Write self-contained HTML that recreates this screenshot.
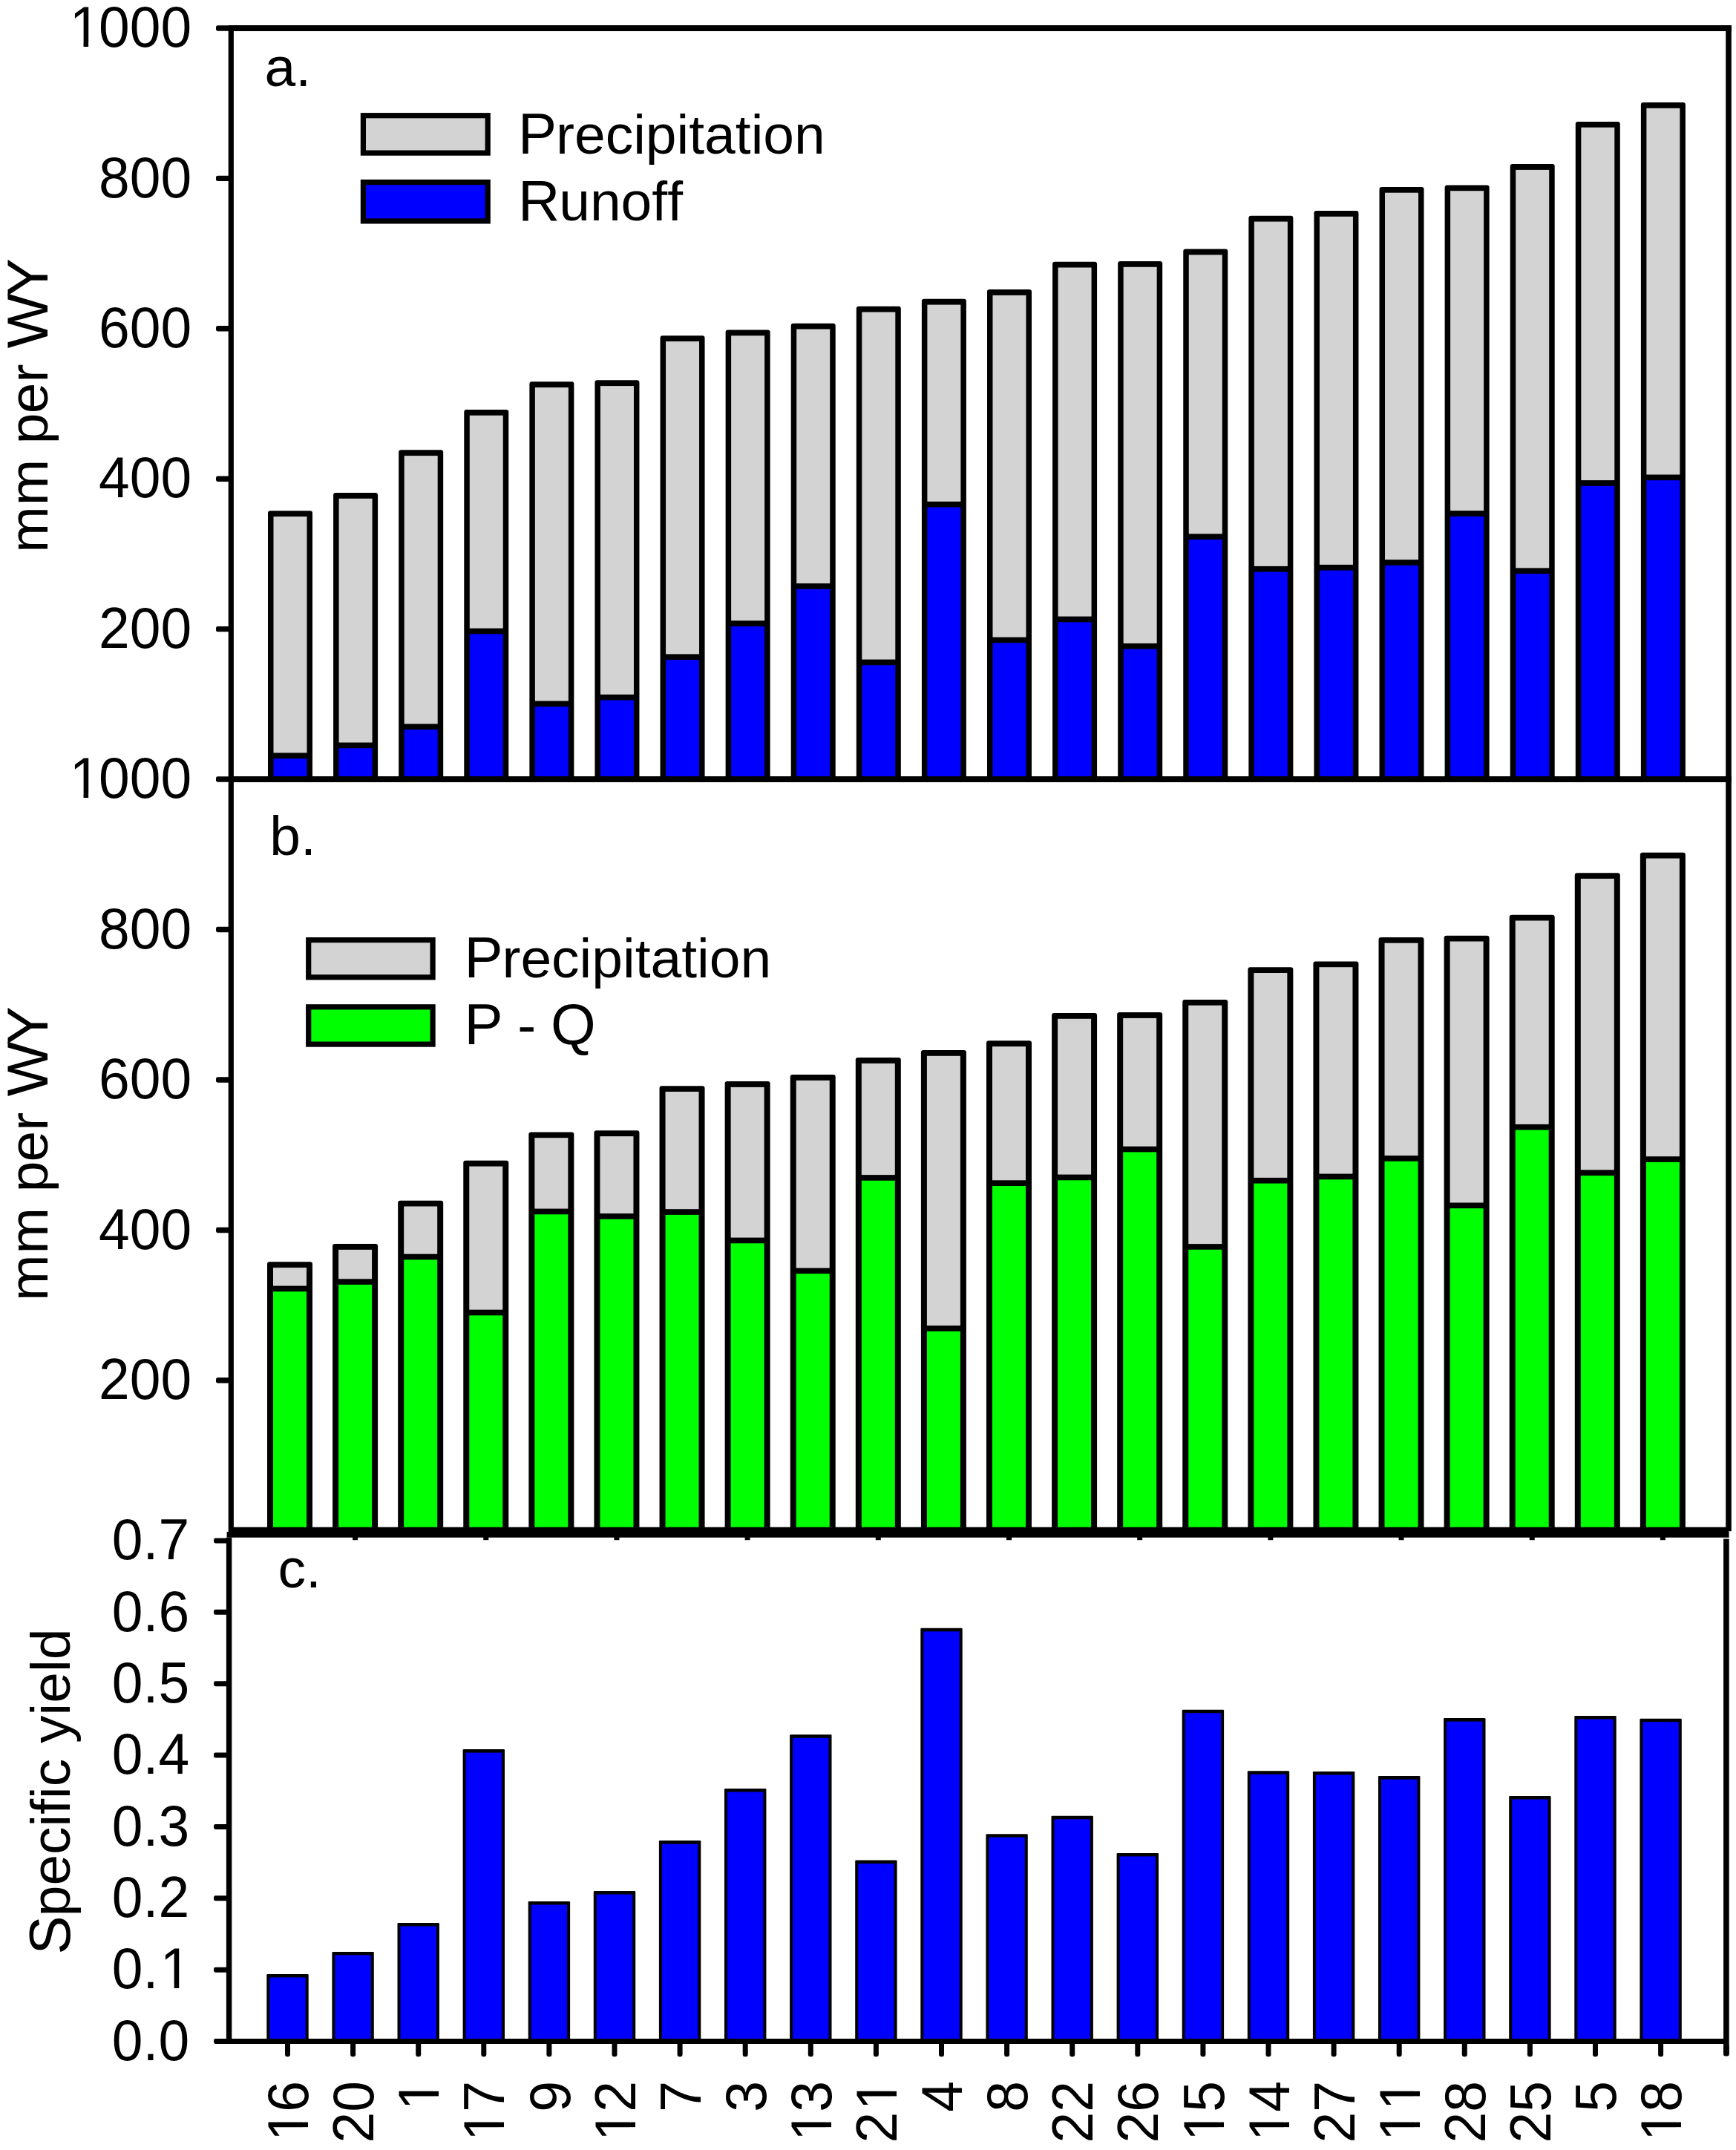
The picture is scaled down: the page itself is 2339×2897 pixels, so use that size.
<!DOCTYPE html>
<html lang="en">
<head>
<meta charset="utf-8">
<title>Precipitation, runoff and specific yield by catchment</title>
<style>
html,body{margin:0;padding:0;background:#fff;}
body{width:2339px;height:2897px;overflow:hidden;}
svg{display:block;}
text{font-family:"Liberation Sans",sans-serif;font-size:75px;fill:#000;font-variant-ligatures:none;font-feature-settings:"liga" 0,"clig" 0,"kern" 0;font-kerning:none;}
</style>
</head>
<body>
<svg width="2339" height="2897" viewBox="0 0 2339 2897" shape-rendering="geometricPrecision">
<rect x="0" y="0" width="2339" height="2897" fill="#ffffff"/>
<rect x="361.00" y="688.20" width="60.00" height="364.30" fill="#000" rx="3.2"/>
<rect x="368.50" y="696.00" width="45.00" height="318.40" fill="#d3d3d3"/>
<rect x="368.50" y="1022.10" width="45.00" height="27.90" fill="#0000ff"/>
<rect x="449.09" y="664.00" width="60.00" height="388.50" fill="#000" rx="3.2"/>
<rect x="456.59" y="671.80" width="45.00" height="328.70" fill="#d3d3d3"/>
<rect x="456.59" y="1008.20" width="45.00" height="41.80" fill="#0000ff"/>
<rect x="537.18" y="606.30" width="60.00" height="446.20" fill="#000" rx="3.2"/>
<rect x="544.68" y="614.10" width="45.00" height="361.30" fill="#d3d3d3"/>
<rect x="544.68" y="983.10" width="45.00" height="66.90" fill="#0000ff"/>
<rect x="625.27" y="552.00" width="60.00" height="500.50" fill="#000" rx="3.2"/>
<rect x="632.77" y="559.80" width="45.00" height="286.80" fill="#d3d3d3"/>
<rect x="632.77" y="854.30" width="45.00" height="195.70" fill="#0000ff"/>
<rect x="713.36" y="514.30" width="60.00" height="538.20" fill="#000" rx="3.2"/>
<rect x="720.86" y="522.10" width="45.00" height="422.40" fill="#d3d3d3"/>
<rect x="720.86" y="952.20" width="45.00" height="97.80" fill="#0000ff"/>
<rect x="801.45" y="512.30" width="60.00" height="540.20" fill="#000" rx="3.2"/>
<rect x="808.95" y="520.10" width="45.00" height="415.70" fill="#d3d3d3"/>
<rect x="808.95" y="943.50" width="45.00" height="106.50" fill="#0000ff"/>
<rect x="889.54" y="452.20" width="60.00" height="600.30" fill="#000" rx="3.2"/>
<rect x="897.04" y="460.00" width="45.00" height="421.40" fill="#d3d3d3"/>
<rect x="897.04" y="889.10" width="45.00" height="160.90" fill="#0000ff"/>
<rect x="977.63" y="444.50" width="60.00" height="608.00" fill="#000" rx="3.2"/>
<rect x="985.13" y="452.30" width="45.00" height="384.00" fill="#d3d3d3"/>
<rect x="985.13" y="844.00" width="45.00" height="206.00" fill="#0000ff"/>
<rect x="1065.72" y="435.70" width="60.00" height="616.80" fill="#000" rx="3.2"/>
<rect x="1073.22" y="443.50" width="45.00" height="342.60" fill="#d3d3d3"/>
<rect x="1073.22" y="793.80" width="45.00" height="256.20" fill="#0000ff"/>
<rect x="1153.81" y="412.70" width="60.00" height="639.80" fill="#000" rx="3.2"/>
<rect x="1161.31" y="420.50" width="45.00" height="468.10" fill="#d3d3d3"/>
<rect x="1161.31" y="896.30" width="45.00" height="153.70" fill="#0000ff"/>
<rect x="1241.90" y="402.80" width="60.00" height="649.70" fill="#000" rx="3.2"/>
<rect x="1249.40" y="410.60" width="45.00" height="265.20" fill="#d3d3d3"/>
<rect x="1249.40" y="683.50" width="45.00" height="366.50" fill="#0000ff"/>
<rect x="1329.99" y="390.10" width="60.00" height="662.40" fill="#000" rx="3.2"/>
<rect x="1337.49" y="397.90" width="45.00" height="460.70" fill="#d3d3d3"/>
<rect x="1337.49" y="866.30" width="45.00" height="183.70" fill="#0000ff"/>
<rect x="1418.08" y="352.70" width="60.00" height="699.80" fill="#000" rx="3.2"/>
<rect x="1425.58" y="360.50" width="45.00" height="470.10" fill="#d3d3d3"/>
<rect x="1425.58" y="838.30" width="45.00" height="211.70" fill="#0000ff"/>
<rect x="1506.17" y="352.00" width="60.00" height="700.50" fill="#000" rx="3.2"/>
<rect x="1513.67" y="359.80" width="45.00" height="507.10" fill="#d3d3d3"/>
<rect x="1513.67" y="874.60" width="45.00" height="175.40" fill="#0000ff"/>
<rect x="1594.26" y="335.60" width="60.00" height="716.90" fill="#000" rx="3.2"/>
<rect x="1601.76" y="343.40" width="45.00" height="375.90" fill="#d3d3d3"/>
<rect x="1601.76" y="727.00" width="45.00" height="323.00" fill="#0000ff"/>
<rect x="1682.35" y="290.80" width="60.00" height="761.70" fill="#000" rx="3.2"/>
<rect x="1689.85" y="298.60" width="45.00" height="464.30" fill="#d3d3d3"/>
<rect x="1689.85" y="770.60" width="45.00" height="279.40" fill="#0000ff"/>
<rect x="1770.44" y="284.00" width="60.00" height="768.50" fill="#000" rx="3.2"/>
<rect x="1777.94" y="291.80" width="45.00" height="469.10" fill="#d3d3d3"/>
<rect x="1777.94" y="768.60" width="45.00" height="281.40" fill="#0000ff"/>
<rect x="1858.53" y="251.90" width="60.00" height="800.60" fill="#000" rx="3.2"/>
<rect x="1866.03" y="259.70" width="45.00" height="494.40" fill="#d3d3d3"/>
<rect x="1866.03" y="761.80" width="45.00" height="288.20" fill="#0000ff"/>
<rect x="1946.62" y="249.40" width="60.00" height="803.10" fill="#000" rx="3.2"/>
<rect x="1954.12" y="257.20" width="45.00" height="430.90" fill="#d3d3d3"/>
<rect x="1954.12" y="695.80" width="45.00" height="354.20" fill="#0000ff"/>
<rect x="2034.71" y="221.10" width="60.00" height="831.40" fill="#000" rx="3.2"/>
<rect x="2042.21" y="228.90" width="45.00" height="536.50" fill="#d3d3d3"/>
<rect x="2042.21" y="773.10" width="45.00" height="276.90" fill="#0000ff"/>
<rect x="2122.80" y="163.90" width="60.00" height="888.60" fill="#000" rx="3.2"/>
<rect x="2130.30" y="171.70" width="45.00" height="475.40" fill="#d3d3d3"/>
<rect x="2130.30" y="654.80" width="45.00" height="395.20" fill="#0000ff"/>
<rect x="2210.89" y="138.00" width="60.00" height="914.50" fill="#000" rx="3.2"/>
<rect x="2218.39" y="145.80" width="45.00" height="493.70" fill="#d3d3d3"/>
<rect x="2218.39" y="647.20" width="45.00" height="402.80" fill="#0000ff"/>
<rect x="360.00" y="1700.30" width="61.00" height="364.40" fill="#000" rx="3.2"/>
<rect x="368.00" y="1708.10" width="45.00" height="24.50" fill="#d3d3d3"/>
<rect x="368.00" y="1740.30" width="45.00" height="321.40" fill="#00ff00"/>
<rect x="448.09" y="1676.10" width="61.00" height="388.60" fill="#000" rx="3.2"/>
<rect x="456.09" y="1683.90" width="45.00" height="39.40" fill="#d3d3d3"/>
<rect x="456.09" y="1731.00" width="45.00" height="330.70" fill="#00ff00"/>
<rect x="536.18" y="1617.70" width="61.00" height="447.00" fill="#000" rx="3.2"/>
<rect x="544.18" y="1625.50" width="45.00" height="64.20" fill="#d3d3d3"/>
<rect x="544.18" y="1697.40" width="45.00" height="364.30" fill="#00ff00"/>
<rect x="624.27" y="1563.80" width="61.00" height="500.90" fill="#000" rx="3.2"/>
<rect x="632.27" y="1571.60" width="45.00" height="193.10" fill="#d3d3d3"/>
<rect x="632.27" y="1772.40" width="45.00" height="289.30" fill="#00ff00"/>
<rect x="712.36" y="1525.40" width="61.00" height="539.30" fill="#000" rx="3.2"/>
<rect x="720.36" y="1533.20" width="45.00" height="95.40" fill="#d3d3d3"/>
<rect x="720.36" y="1636.30" width="45.00" height="425.40" fill="#00ff00"/>
<rect x="800.45" y="1523.30" width="61.00" height="541.40" fill="#000" rx="3.2"/>
<rect x="808.45" y="1531.10" width="45.00" height="104.00" fill="#d3d3d3"/>
<rect x="808.45" y="1642.80" width="45.00" height="418.90" fill="#00ff00"/>
<rect x="888.54" y="1463.20" width="61.00" height="601.50" fill="#000" rx="3.2"/>
<rect x="896.54" y="1471.00" width="45.00" height="158.20" fill="#d3d3d3"/>
<rect x="896.54" y="1636.90" width="45.00" height="424.80" fill="#00ff00"/>
<rect x="976.63" y="1457.10" width="61.00" height="607.60" fill="#000" rx="3.2"/>
<rect x="984.63" y="1464.90" width="45.00" height="202.70" fill="#d3d3d3"/>
<rect x="984.63" y="1675.30" width="45.00" height="386.40" fill="#00ff00"/>
<rect x="1064.72" y="1448.00" width="61.00" height="616.70" fill="#000" rx="3.2"/>
<rect x="1072.72" y="1455.80" width="45.00" height="252.80" fill="#d3d3d3"/>
<rect x="1072.72" y="1716.30" width="45.00" height="345.40" fill="#00ff00"/>
<rect x="1152.81" y="1425.10" width="61.00" height="639.60" fill="#000" rx="3.2"/>
<rect x="1160.81" y="1432.90" width="45.00" height="150.20" fill="#d3d3d3"/>
<rect x="1160.81" y="1590.80" width="45.00" height="470.90" fill="#00ff00"/>
<rect x="1240.90" y="1415.00" width="61.00" height="649.70" fill="#000" rx="3.2"/>
<rect x="1248.90" y="1422.80" width="45.00" height="363.40" fill="#d3d3d3"/>
<rect x="1248.90" y="1793.90" width="45.00" height="267.80" fill="#00ff00"/>
<rect x="1328.99" y="1402.30" width="61.00" height="662.40" fill="#000" rx="3.2"/>
<rect x="1336.99" y="1410.10" width="45.00" height="180.20" fill="#d3d3d3"/>
<rect x="1336.99" y="1598.00" width="45.00" height="463.70" fill="#00ff00"/>
<rect x="1417.08" y="1365.00" width="61.00" height="699.70" fill="#000" rx="3.2"/>
<rect x="1425.08" y="1372.80" width="45.00" height="209.80" fill="#d3d3d3"/>
<rect x="1425.08" y="1590.30" width="45.00" height="471.40" fill="#00ff00"/>
<rect x="1505.17" y="1364.10" width="61.00" height="700.60" fill="#000" rx="3.2"/>
<rect x="1513.17" y="1371.90" width="45.00" height="172.80" fill="#d3d3d3"/>
<rect x="1513.17" y="1552.40" width="45.00" height="509.30" fill="#00ff00"/>
<rect x="1593.26" y="1346.90" width="61.00" height="717.80" fill="#000" rx="3.2"/>
<rect x="1601.26" y="1354.70" width="45.00" height="321.40" fill="#d3d3d3"/>
<rect x="1601.26" y="1683.80" width="45.00" height="377.90" fill="#00ff00"/>
<rect x="1681.35" y="1303.20" width="61.00" height="761.50" fill="#000" rx="3.2"/>
<rect x="1689.35" y="1311.00" width="45.00" height="275.90" fill="#d3d3d3"/>
<rect x="1689.35" y="1594.60" width="45.00" height="467.10" fill="#00ff00"/>
<rect x="1769.44" y="1295.40" width="61.00" height="769.30" fill="#000" rx="3.2"/>
<rect x="1777.44" y="1303.20" width="45.00" height="278.40" fill="#d3d3d3"/>
<rect x="1777.44" y="1589.30" width="45.00" height="472.40" fill="#00ff00"/>
<rect x="1857.53" y="1262.90" width="61.00" height="801.80" fill="#000" rx="3.2"/>
<rect x="1865.53" y="1270.70" width="45.00" height="286.40" fill="#d3d3d3"/>
<rect x="1865.53" y="1564.80" width="45.00" height="496.90" fill="#00ff00"/>
<rect x="1945.62" y="1260.70" width="61.00" height="804.00" fill="#000" rx="3.2"/>
<rect x="1953.62" y="1268.50" width="45.00" height="352.00" fill="#d3d3d3"/>
<rect x="1953.62" y="1628.20" width="45.00" height="433.50" fill="#00ff00"/>
<rect x="2033.71" y="1232.70" width="61.00" height="832.00" fill="#000" rx="3.2"/>
<rect x="2041.71" y="1240.50" width="45.00" height="274.40" fill="#d3d3d3"/>
<rect x="2041.71" y="1522.60" width="45.00" height="539.10" fill="#00ff00"/>
<rect x="2121.80" y="1176.20" width="61.00" height="888.50" fill="#000" rx="3.2"/>
<rect x="2129.80" y="1184.00" width="45.00" height="392.40" fill="#d3d3d3"/>
<rect x="2129.80" y="1584.10" width="45.00" height="477.60" fill="#00ff00"/>
<rect x="2209.89" y="1148.80" width="61.00" height="915.90" fill="#000" rx="3.2"/>
<rect x="2217.89" y="1156.60" width="45.00" height="401.60" fill="#d3d3d3"/>
<rect x="2217.89" y="1565.90" width="45.00" height="495.80" fill="#00ff00"/>
<line x1="478.59" y1="2061.70" x2="478.59" y2="2075.20" stroke="#000" stroke-width="7.0" stroke-linecap="butt"/>
<line x1="654.77" y1="2061.70" x2="654.77" y2="2075.20" stroke="#000" stroke-width="7.0" stroke-linecap="butt"/>
<line x1="830.95" y1="2061.70" x2="830.95" y2="2075.20" stroke="#000" stroke-width="7.0" stroke-linecap="butt"/>
<line x1="1007.13" y1="2061.70" x2="1007.13" y2="2075.20" stroke="#000" stroke-width="7.0" stroke-linecap="butt"/>
<line x1="1183.31" y1="2061.70" x2="1183.31" y2="2075.20" stroke="#000" stroke-width="7.0" stroke-linecap="butt"/>
<line x1="1359.49" y1="2061.70" x2="1359.49" y2="2075.20" stroke="#000" stroke-width="7.0" stroke-linecap="butt"/>
<line x1="1535.67" y1="2061.70" x2="1535.67" y2="2075.20" stroke="#000" stroke-width="7.0" stroke-linecap="butt"/>
<line x1="1711.85" y1="2061.70" x2="1711.85" y2="2075.20" stroke="#000" stroke-width="7.0" stroke-linecap="butt"/>
<line x1="1888.03" y1="2061.70" x2="1888.03" y2="2075.20" stroke="#000" stroke-width="7.0" stroke-linecap="butt"/>
<line x1="2064.21" y1="2061.70" x2="2064.21" y2="2075.20" stroke="#000" stroke-width="7.0" stroke-linecap="butt"/>
<line x1="2240.39" y1="2061.70" x2="2240.39" y2="2075.20" stroke="#000" stroke-width="7.0" stroke-linecap="butt"/>
<rect x="359.30" y="2660.00" width="56.40" height="90.50" fill="#000" rx="1.2"/>
<rect x="363.30" y="2664.50" width="48.40" height="86.00" fill="#0000ff"/>
<rect x="447.40" y="2629.90" width="56.40" height="120.60" fill="#000" rx="1.2"/>
<rect x="451.40" y="2634.40" width="48.40" height="116.10" fill="#0000ff"/>
<rect x="535.50" y="2591.00" width="56.40" height="159.50" fill="#000" rx="1.2"/>
<rect x="539.50" y="2595.50" width="48.40" height="155.00" fill="#0000ff"/>
<rect x="623.60" y="2357.10" width="56.40" height="393.40" fill="#000" rx="1.2"/>
<rect x="627.60" y="2361.60" width="48.40" height="388.90" fill="#0000ff"/>
<rect x="711.70" y="2562.00" width="56.40" height="188.50" fill="#000" rx="1.2"/>
<rect x="715.70" y="2566.50" width="48.40" height="184.00" fill="#0000ff"/>
<rect x="799.80" y="2548.10" width="56.40" height="202.40" fill="#000" rx="1.2"/>
<rect x="803.80" y="2552.60" width="48.40" height="197.90" fill="#0000ff"/>
<rect x="887.90" y="2480.10" width="56.40" height="270.40" fill="#000" rx="1.2"/>
<rect x="891.90" y="2484.60" width="48.40" height="265.90" fill="#0000ff"/>
<rect x="976.00" y="2410.00" width="56.40" height="340.50" fill="#000" rx="1.2"/>
<rect x="980.00" y="2414.50" width="48.40" height="336.00" fill="#0000ff"/>
<rect x="1064.10" y="2337.30" width="56.40" height="413.20" fill="#000" rx="1.2"/>
<rect x="1068.10" y="2341.80" width="48.40" height="408.70" fill="#0000ff"/>
<rect x="1152.20" y="2506.60" width="56.40" height="243.90" fill="#000" rx="1.2"/>
<rect x="1156.20" y="2511.10" width="48.40" height="239.40" fill="#0000ff"/>
<rect x="1240.30" y="2193.80" width="56.40" height="556.70" fill="#000" rx="1.2"/>
<rect x="1244.30" y="2198.30" width="48.40" height="552.20" fill="#0000ff"/>
<rect x="1328.40" y="2471.20" width="56.40" height="279.30" fill="#000" rx="1.2"/>
<rect x="1332.40" y="2475.70" width="48.40" height="274.80" fill="#0000ff"/>
<rect x="1416.50" y="2446.80" width="56.40" height="303.70" fill="#000" rx="1.2"/>
<rect x="1420.50" y="2451.30" width="48.40" height="299.20" fill="#0000ff"/>
<rect x="1504.60" y="2496.90" width="56.40" height="253.60" fill="#000" rx="1.2"/>
<rect x="1508.60" y="2501.40" width="48.40" height="249.10" fill="#0000ff"/>
<rect x="1592.70" y="2303.70" width="56.40" height="446.80" fill="#000" rx="1.2"/>
<rect x="1596.70" y="2308.20" width="48.40" height="442.30" fill="#0000ff"/>
<rect x="1680.80" y="2386.30" width="56.40" height="364.20" fill="#000" rx="1.2"/>
<rect x="1684.80" y="2390.80" width="48.40" height="359.70" fill="#0000ff"/>
<rect x="1768.90" y="2387.00" width="56.40" height="363.50" fill="#000" rx="1.2"/>
<rect x="1772.90" y="2391.50" width="48.40" height="359.00" fill="#0000ff"/>
<rect x="1857.00" y="2393.10" width="56.40" height="357.40" fill="#000" rx="1.2"/>
<rect x="1861.00" y="2397.60" width="48.40" height="352.90" fill="#0000ff"/>
<rect x="1945.10" y="2315.10" width="56.40" height="435.40" fill="#000" rx="1.2"/>
<rect x="1949.10" y="2319.60" width="48.40" height="430.90" fill="#0000ff"/>
<rect x="2033.20" y="2420.00" width="56.40" height="330.50" fill="#000" rx="1.2"/>
<rect x="2037.20" y="2424.50" width="48.40" height="326.00" fill="#0000ff"/>
<rect x="2121.30" y="2312.00" width="56.40" height="438.50" fill="#000" rx="1.2"/>
<rect x="2125.30" y="2316.50" width="48.40" height="434.00" fill="#0000ff"/>
<rect x="2209.40" y="2315.70" width="56.40" height="434.80" fill="#000" rx="1.2"/>
<rect x="2213.40" y="2320.20" width="48.40" height="430.30" fill="#0000ff"/>
<line x1="311.30" y1="34.20" x2="311.30" y2="2065.50" stroke="#000" stroke-width="7.2" stroke-linecap="butt"/>
<line x1="2329.00" y1="34.20" x2="2329.00" y2="2063.20" stroke="#000" stroke-width="7.6" stroke-linecap="butt"/>
<line x1="308.00" y1="38.00" x2="2332.80" y2="38.00" stroke="#000" stroke-width="8.0" stroke-linecap="butt"/>
<line x1="308.00" y1="1050.00" x2="2332.80" y2="1050.00" stroke="#000" stroke-width="8.0" stroke-linecap="butt"/>
<line x1="308.00" y1="2061.70" x2="2329.00" y2="2061.70" stroke="#000" stroke-width="8.0" stroke-linecap="butt"/>
<line x1="305.60" y1="2067.80" x2="2329.60" y2="2067.80" stroke="#000" stroke-width="7.8" stroke-linecap="butt"/>
<line x1="308.60" y1="2071.70" x2="308.60" y2="2753.90" stroke="#000" stroke-width="7.4" stroke-linecap="butt"/>
<line x1="2325.90" y1="2073.60" x2="2325.90" y2="2767.00" stroke="#000" stroke-width="7.6" stroke-linecap="butt"/>
<rect x="2322.10" y="2755.00" width="7.60" height="15.60" fill="#000" rx="2.4"/>
<line x1="305.60" y1="2750.50" x2="2325.90" y2="2750.50" stroke="#000" stroke-width="7.0" stroke-linecap="butt"/>
<rect x="291.00" y="34.30" width="20.30" height="7.40" fill="#000" rx="2.4"/>
<rect x="291.00" y="236.70" width="20.30" height="7.40" fill="#000" rx="2.4"/>
<rect x="291.00" y="439.10" width="20.30" height="7.40" fill="#000" rx="2.4"/>
<rect x="291.00" y="641.50" width="20.30" height="7.40" fill="#000" rx="2.4"/>
<rect x="291.00" y="843.90" width="20.30" height="7.40" fill="#000" rx="2.4"/>
<rect x="291.00" y="1046.30" width="20.30" height="7.40" fill="#000" rx="2.4"/>
<rect x="291.00" y="1248.80" width="20.30" height="7.40" fill="#000" rx="2.4"/>
<rect x="291.00" y="1451.30" width="20.30" height="7.40" fill="#000" rx="2.4"/>
<rect x="291.00" y="1653.80" width="20.30" height="7.40" fill="#000" rx="2.4"/>
<rect x="291.00" y="1856.30" width="20.30" height="7.40" fill="#000" rx="2.4"/>
<rect x="288.00" y="2747.00" width="20.60" height="7.00" fill="#000" rx="2.4"/>
<rect x="288.00" y="2650.64" width="20.60" height="7.00" fill="#000" rx="2.4"/>
<rect x="288.00" y="2554.29" width="20.60" height="7.00" fill="#000" rx="2.4"/>
<rect x="288.00" y="2457.93" width="20.60" height="7.00" fill="#000" rx="2.4"/>
<rect x="288.00" y="2361.57" width="20.60" height="7.00" fill="#000" rx="2.4"/>
<rect x="288.00" y="2265.21" width="20.60" height="7.00" fill="#000" rx="2.4"/>
<rect x="288.00" y="2168.86" width="20.60" height="7.00" fill="#000" rx="2.4"/>
<rect x="288.00" y="2072.50" width="20.60" height="7.00" fill="#000" rx="2.4"/>
<rect x="384.00" y="2750.50" width="7.00" height="20.70" fill="#000" rx="2.4"/>
<rect x="472.10" y="2750.50" width="7.00" height="20.70" fill="#000" rx="2.4"/>
<rect x="560.20" y="2750.50" width="7.00" height="20.70" fill="#000" rx="2.4"/>
<rect x="648.30" y="2750.50" width="7.00" height="20.70" fill="#000" rx="2.4"/>
<rect x="736.40" y="2750.50" width="7.00" height="20.70" fill="#000" rx="2.4"/>
<rect x="824.50" y="2750.50" width="7.00" height="20.70" fill="#000" rx="2.4"/>
<rect x="912.60" y="2750.50" width="7.00" height="20.70" fill="#000" rx="2.4"/>
<rect x="1000.70" y="2750.50" width="7.00" height="20.70" fill="#000" rx="2.4"/>
<rect x="1088.80" y="2750.50" width="7.00" height="20.70" fill="#000" rx="2.4"/>
<rect x="1176.90" y="2750.50" width="7.00" height="20.70" fill="#000" rx="2.4"/>
<rect x="1265.00" y="2750.50" width="7.00" height="20.70" fill="#000" rx="2.4"/>
<rect x="1353.10" y="2750.50" width="7.00" height="20.70" fill="#000" rx="2.4"/>
<rect x="1441.20" y="2750.50" width="7.00" height="20.70" fill="#000" rx="2.4"/>
<rect x="1529.30" y="2750.50" width="7.00" height="20.70" fill="#000" rx="2.4"/>
<rect x="1617.40" y="2750.50" width="7.00" height="20.70" fill="#000" rx="2.4"/>
<rect x="1705.50" y="2750.50" width="7.00" height="20.70" fill="#000" rx="2.4"/>
<rect x="1793.60" y="2750.50" width="7.00" height="20.70" fill="#000" rx="2.4"/>
<rect x="1881.70" y="2750.50" width="7.00" height="20.70" fill="#000" rx="2.4"/>
<rect x="1969.80" y="2750.50" width="7.00" height="20.70" fill="#000" rx="2.4"/>
<rect x="2057.90" y="2750.50" width="7.00" height="20.70" fill="#000" rx="2.4"/>
<rect x="2146.00" y="2750.50" width="7.00" height="20.70" fill="#000" rx="2.4"/>
<rect x="2234.10" y="2750.50" width="7.00" height="20.70" fill="#000" rx="2.4"/>
<g transform="translate(258.10,63.20) scale(1.0000,1.0407)"><text x="-164.44 -125.13 -83.42 -41.71" y="0">1000</text>
<rect x="-159.53" y="-6.20" width="13.95" height="7.00" fill="#fff"/>
<rect x="-138.96" y="-6.20" width="13.36" height="7.00" fill="#fff"/>
</g>
<g transform="translate(258.10,265.60) scale(1.0000,1.0407)"><text x="-125.13 -83.42 -41.71" y="0">800</text>
</g>
<g transform="translate(258.10,468.00) scale(1.0000,1.0407)"><text x="-125.13 -83.42 -41.71" y="0">600</text>
</g>
<g transform="translate(258.10,670.40) scale(1.0000,1.0407)"><text x="-125.13 -83.42 -41.71" y="0">400</text>
</g>
<g transform="translate(258.10,872.80) scale(1.0000,1.0407)"><text x="-125.13 -83.42 -41.71" y="0">200</text>
</g>
<g transform="translate(258.10,1075.20) scale(1.0000,1.0407)"><text x="-164.44 -125.13 -83.42 -41.71" y="0">1000</text>
<rect x="-159.53" y="-6.20" width="13.95" height="7.00" fill="#fff"/>
<rect x="-138.96" y="-6.20" width="13.36" height="7.00" fill="#fff"/>
</g>
<g transform="translate(258.10,1277.70) scale(1.0000,1.0407)"><text x="-125.13 -83.42 -41.71" y="0">800</text>
</g>
<g transform="translate(258.10,1480.20) scale(1.0000,1.0407)"><text x="-125.13 -83.42 -41.71" y="0">600</text>
</g>
<g transform="translate(258.10,1682.70) scale(1.0000,1.0407)"><text x="-125.13 -83.42 -41.71" y="0">400</text>
</g>
<g transform="translate(258.10,1885.20) scale(1.0000,1.0407)"><text x="-125.13 -83.42 -41.71" y="0">200</text>
</g>
<g transform="translate(255.10,2775.70) scale(1.0000,1.0407)"><text x="-104.26 -62.55 -41.71" y="0">0.0</text>
</g>
<g transform="translate(255.10,2679.34) scale(1.0000,1.0407)"><text x="-104.26 -62.55 -39.31" y="0">0.1</text>
<rect x="-34.40" y="-6.20" width="13.95" height="7.00" fill="#fff"/>
<rect x="-13.83" y="-6.20" width="13.36" height="7.00" fill="#fff"/>
</g>
<g transform="translate(255.10,2582.99) scale(1.0000,1.0407)"><text x="-104.26 -62.55 -41.71" y="0">0.2</text>
</g>
<g transform="translate(255.10,2486.63) scale(1.0000,1.0407)"><text x="-104.26 -62.55 -41.71" y="0">0.3</text>
</g>
<g transform="translate(255.10,2390.27) scale(1.0000,1.0407)"><text x="-104.26 -62.55 -41.71" y="0">0.4</text>
</g>
<g transform="translate(255.10,2293.91) scale(1.0000,1.0407)"><text x="-104.26 -62.55 -41.71" y="0">0.5</text>
</g>
<g transform="translate(255.10,2197.56) scale(1.0000,1.0407)"><text x="-104.26 -62.55 -41.71" y="0">0.6</text>
</g>
<g transform="translate(255.10,2101.20) scale(1.0000,1.0407)"><text x="-104.26 -62.55 -41.71" y="0">0.7</text>
</g>
<g transform="translate(415.10,2804.00) rotate(-90) scale(1.0000,1.0407)"><text x="-81.02 -41.71" y="0">16</text>
<rect x="-76.11" y="-6.20" width="13.95" height="7.00" fill="#fff"/>
<rect x="-55.54" y="-6.20" width="13.36" height="7.00" fill="#fff"/>
</g>
<g transform="translate(503.20,2804.00) rotate(-90) scale(1.0000,1.0407)"><text x="-83.42 -41.71" y="0">20</text>
</g>
<g transform="translate(591.30,2804.00) rotate(-90) scale(1.0000,1.0407)"><text x="-39.31" y="0">1</text>
<rect x="-34.40" y="-6.20" width="13.95" height="7.00" fill="#fff"/>
<rect x="-13.83" y="-6.20" width="13.36" height="7.00" fill="#fff"/>
</g>
<g transform="translate(679.40,2804.00) rotate(-90) scale(1.0000,1.0407)"><text x="-81.02 -41.71" y="0">17</text>
<rect x="-76.11" y="-6.20" width="13.95" height="7.00" fill="#fff"/>
<rect x="-55.54" y="-6.20" width="13.36" height="7.00" fill="#fff"/>
</g>
<g transform="translate(767.50,2804.00) rotate(-90) scale(1.0000,1.0407)"><text x="-41.71" y="0">9</text>
</g>
<g transform="translate(855.60,2804.00) rotate(-90) scale(1.0000,1.0407)"><text x="-81.02 -41.71" y="0">12</text>
<rect x="-76.11" y="-6.20" width="13.95" height="7.00" fill="#fff"/>
<rect x="-55.54" y="-6.20" width="13.36" height="7.00" fill="#fff"/>
</g>
<g transform="translate(943.70,2804.00) rotate(-90) scale(1.0000,1.0407)"><text x="-41.71" y="0">7</text>
</g>
<g transform="translate(1031.80,2804.00) rotate(-90) scale(1.0000,1.0407)"><text x="-41.71" y="0">3</text>
</g>
<g transform="translate(1119.90,2804.00) rotate(-90) scale(1.0000,1.0407)"><text x="-81.02 -41.71" y="0">13</text>
<rect x="-76.11" y="-6.20" width="13.95" height="7.00" fill="#fff"/>
<rect x="-55.54" y="-6.20" width="13.36" height="7.00" fill="#fff"/>
</g>
<g transform="translate(1208.00,2804.00) rotate(-90) scale(1.0000,1.0407)"><text x="-83.42 -39.31" y="0">21</text>
<rect x="-34.40" y="-6.20" width="13.95" height="7.00" fill="#fff"/>
<rect x="-13.83" y="-6.20" width="13.36" height="7.00" fill="#fff"/>
</g>
<g transform="translate(1296.10,2804.00) rotate(-90) scale(1.0000,1.0407)"><text x="-41.71" y="0">4</text>
</g>
<g transform="translate(1384.20,2804.00) rotate(-90) scale(1.0000,1.0407)"><text x="-41.71" y="0">8</text>
</g>
<g transform="translate(1472.30,2804.00) rotate(-90) scale(1.0000,1.0407)"><text x="-83.42 -41.71" y="0">22</text>
</g>
<g transform="translate(1560.40,2804.00) rotate(-90) scale(1.0000,1.0407)"><text x="-83.42 -41.71" y="0">26</text>
</g>
<g transform="translate(1648.50,2804.00) rotate(-90) scale(1.0000,1.0407)"><text x="-81.02 -41.71" y="0">15</text>
<rect x="-76.11" y="-6.20" width="13.95" height="7.00" fill="#fff"/>
<rect x="-55.54" y="-6.20" width="13.36" height="7.00" fill="#fff"/>
</g>
<g transform="translate(1736.60,2804.00) rotate(-90) scale(1.0000,1.0407)"><text x="-81.02 -41.71" y="0">14</text>
<rect x="-76.11" y="-6.20" width="13.95" height="7.00" fill="#fff"/>
<rect x="-55.54" y="-6.20" width="13.36" height="7.00" fill="#fff"/>
</g>
<g transform="translate(1824.70,2804.00) rotate(-90) scale(1.0000,1.0407)"><text x="-83.42 -41.71" y="0">27</text>
</g>
<g transform="translate(1912.80,2804.00) rotate(-90) scale(1.0000,1.0407)"><text x="-81.02 -39.31" y="0">11</text>
<rect x="-76.11" y="-6.20" width="13.95" height="7.00" fill="#fff"/>
<rect x="-55.54" y="-6.20" width="13.36" height="7.00" fill="#fff"/>
<rect x="-34.40" y="-6.20" width="13.95" height="7.00" fill="#fff"/>
<rect x="-13.83" y="-6.20" width="13.36" height="7.00" fill="#fff"/>
</g>
<g transform="translate(2000.90,2804.00) rotate(-90) scale(1.0000,1.0407)"><text x="-83.42 -41.71" y="0">28</text>
</g>
<g transform="translate(2089.00,2804.00) rotate(-90) scale(1.0000,1.0407)"><text x="-83.42 -41.71" y="0">25</text>
</g>
<g transform="translate(2177.10,2804.00) rotate(-90) scale(1.0000,1.0407)"><text x="-41.71" y="0">5</text>
</g>
<g transform="translate(2265.20,2804.00) rotate(-90) scale(1.0000,1.0407)"><text x="-81.02 -41.71" y="0">18</text>
<rect x="-76.11" y="-6.20" width="13.95" height="7.00" fill="#fff"/>
<rect x="-55.54" y="-6.20" width="13.36" height="7.00" fill="#fff"/>
</g>
<text transform="translate(64.00,744.82) rotate(-90)"><tspan x="0.00">m</tspan><tspan x="63.48">m</tspan> <tspan x="146.59">p</tspan><tspan x="187.50">er</tspan> <tspan x="275.58" font-size="78.05">W</tspan><tspan x="344.80" font-size="78.05">Y</tspan></text>
<text transform="translate(64.00,1752.92) rotate(-90)"><tspan x="0.00">m</tspan><tspan x="63.48">m</tspan> <tspan x="146.59">p</tspan><tspan x="187.50">er</tspan> <tspan x="275.58" font-size="78.05">W</tspan><tspan x="344.80" font-size="78.05">Y</tspan></text>
<text transform="translate(93.70,2413.00) rotate(-90)" text-anchor="middle"><tspan font-size="78.05" dx="-1.02">S</tspan><tspan dx="-1.02">p</tspan>ecific yield</text>
<text transform="translate(356.60,115.80)" text-anchor="start">a.</text>
<text transform="translate(363.30,1152.30)" text-anchor="start">b.</text>
<text transform="translate(374.50,2139.00)" text-anchor="start">c.</text>
<rect x="489.40" y="155.70" width="167.80" height="50.40" fill="#d3d3d3" stroke="#000" stroke-width="7.2"/>
<rect x="489.40" y="245.50" width="167.80" height="52.40" fill="#0000ff" stroke="#000" stroke-width="7.2"/>
<text transform="translate(699.00,206.90)" text-anchor="start"><tspan font-size="78.05" dx="-1.02">P</tspan><tspan dx="-1.02">r</tspan>ecipitation</text>
<text transform="translate(699.00,296.80)" text-anchor="start"><tspan font-size="78.05" dx="-1.10">R</tspan><tspan dx="-1.10">u</tspan>noff</text>
<rect x="415.70" y="1266.60" width="167.40" height="50.20" fill="#d3d3d3" stroke="#000" stroke-width="7.2"/>
<rect x="415.70" y="1356.80" width="167.40" height="50.30" fill="#00ff00" stroke="#000" stroke-width="7.2"/>
<text transform="translate(626.40,1316.90)" text-anchor="start"><tspan font-size="78.05" dx="-1.02">P</tspan><tspan dx="-1.02">r</tspan>ecipitation</text>
<text transform="translate(626.40,1406.80)" text-anchor="start"><tspan font-size="78.05" dx="-1.02">P</tspan><tspan dx="-1.02"> </tspan>- <tspan font-size="78.05" dx="-1.19">Q</tspan></text>
</svg>
</body>
</html>
